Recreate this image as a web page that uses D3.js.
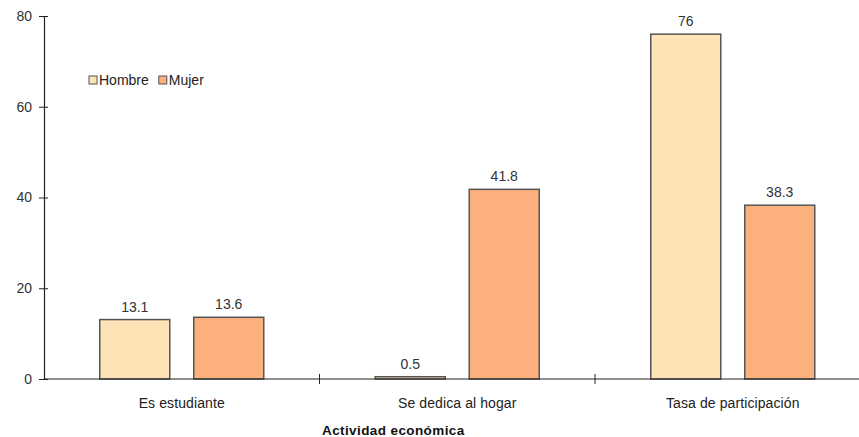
<!DOCTYPE html>
<html>
<head>
<meta charset="utf-8">
<script src="https://cdn.jsdelivr.net/npm/d3@7"></script>
<style>
  html, body { margin: 0; padding: 0; background: #fff; }
  svg { display: block; }
  text { font-family: "Liberation Sans", Arial, sans-serif; }
</style>
</head>
<body>
<svg id="chart" width="859" height="437"></svg>
<script>
// Activity categories and values per sex (percent)
const categories = ["Es estudiante", "Se dedica al hogar", "Tasa de participación"];
const series = ["Hombre", "Mujer"];
const hombre = [13.1, 0.5, 76];
const mujer = [13.6, 41.8, 38.3];
const yTicks = [0, 20, 40, 60, 80];
const colors = ["#fee3b6", "#fcb07d"];
const axisTitle = "Actividad  económica";

const svg = d3.select("#chart");
const x0 = 44, bandW = 275.5;
const x = d3.scaleBand().domain(categories).range([x0, x0 + bandW * 3]).paddingInner(0).paddingOuter(0);
const y = d3.scaleLinear().domain([0, 80]).range([379, 16]);
const xs = d3.scaleBand().domain(series).range([0, x.bandwidth()]).paddingInner(0.255).paddingOuter(0.593);

const rows = categories.map((c, i) => ({ cat: c, vals: [hombre[i], mujer[i]] }));

// Bars
const g = svg.append("g");
rows.forEach(r => {
  r.vals.forEach((v, j) => {
    const bx = x(r.cat) + xs(series[j]);
    g.append("rect")
      .attr("x", bx).attr("width", xs.bandwidth())
      .attr("y", y(v)).attr("height", y(0) - y(v))
      .attr("fill", colors[j]).attr("stroke", "#555").attr("stroke-width", 1.5);
    g.append("text")
      .attr("x", bx + xs.bandwidth() / 2).attr("y", y(v) - 8)
      .attr("text-anchor", "middle").attr("font-size", 14).attr("fill", "#333")
      .text(v);
  });
});

// Y axis
const yAxis = d3.axisLeft(y).tickValues(yTicks).tickSize(0).tickPadding(12);
const ya = svg.append("g").attr("transform", `translate(${x0},0)`).call(yAxis);
ya.select(".domain").attr("stroke", "#222").attr("stroke-width", 1.2);
ya.selectAll(".tick text").attr("font-size", 14).attr("fill", "#333")
  .attr("font-family", "Liberation Sans, Arial, sans-serif");
ya.selectAll(".tick").append("line").attr("x1", -5).attr("x2", 4).attr("stroke", "#222");

// X axis line and category separators
svg.append("line").attr("x1", x0).attr("x2", 859).attr("y1", y(0)).attr("y2", y(0))
  .attr("stroke", "#222").attr("stroke-width", 1.2);
categories.slice(1).forEach(c => {
  svg.append("line").attr("x1", x(c)).attr("x2", x(c))
    .attr("y1", y(0) - 5).attr("y2", y(0) + 5).attr("stroke", "#222");
});
categories.forEach(c => {
  svg.append("text").attr("x", x(c) + x.bandwidth() / 2).attr("y", 408)
    .attr("text-anchor", "middle").attr("font-size", 14).attr("letter-spacing", 0.1)
    .attr("fill", "#222").text(c);
});

// Axis title
svg.append("text").attr("x", 322).attr("y", 435)
  .attr("font-size", 13.5).attr("letter-spacing", 0.4)
  .attr("font-weight", "bold").attr("fill", "#111").text(axisTitle);

// Legend
const leg = svg.append("g").attr("transform", "translate(89,76)");
let lx = 0;
series.forEach((s, j) => {
  leg.append("rect").attr("x", lx).attr("y", 0).attr("width", 8).attr("height", 8)
    .attr("fill", colors[j]).attr("stroke", "#555").attr("stroke-width", 1);
  const t = leg.append("text").attr("x", lx + 10).attr("y", 9)
    .attr("font-size", 14).attr("fill", "#222").text(s);
  lx += 10 + t.node().getComputedTextLength() + 10;
});
</script>
</body>
</html>
